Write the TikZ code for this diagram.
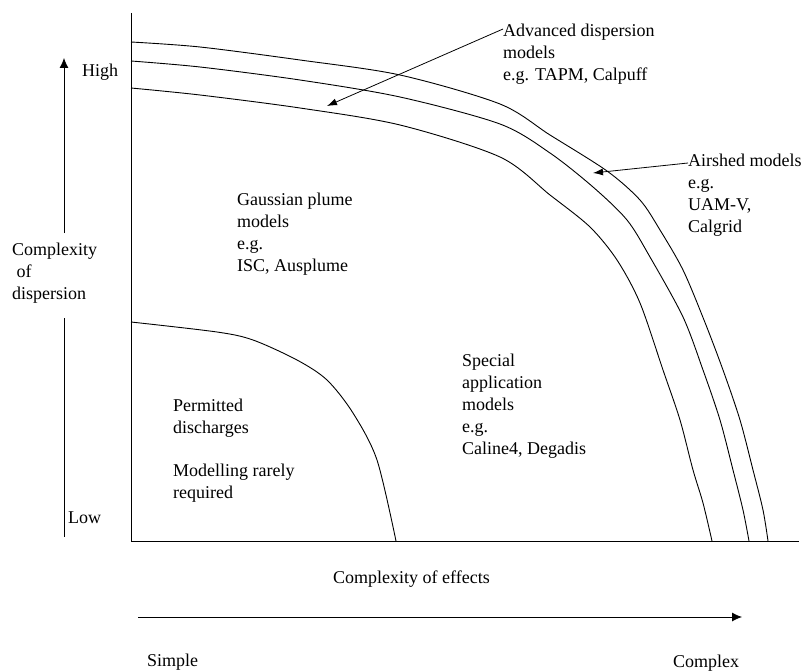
\documentclass[tikz,border=0pt]{standalone}
\usepackage{fontspec}
\setmainfont{Liberation Serif}
\usetikzlibrary{arrows.meta, positioning}

\begin{document}
\begin{tikzpicture}[x=1pt, y=-1pt,
    lbl/.style={inner sep=0pt, align=left, font=\fontsize{18}{22}\selectfont},
    crv/.style={line width=0.9pt, smooth},
    pointer/.style={line width=0.8pt, -{Latex[length=10pt,width=7pt]}}]
    \useasboundingbox (0,0) rectangle (808,671);
    % Axes
    \draw[line width=1pt] (131,13) -- (131,541) -- (799,541);
    
    % left scale
    \coordinate (dtop) at (64,58);
    \coordinate (dmid) at (64,233);
    \coordinate (dlow) at (64,318);
    \coordinate (dbot) at (64,537);
    \draw[pointer, -{Latex[length=10pt,width=9pt]}] (dmid) -- (dtop);
    \draw[line width=0.8pt] (dlow) -- (dbot);
    \node[lbl, anchor=west] (high) at (82,72) {High};
    \node[lbl, anchor=west] (low) at (68,518) {Low};
    \node[lbl, anchor=north west] (cdisp) at (12,243) {Complexity\\\ of\\dispersion};
    
    % bottom scale
    \coordinate (eleft) at (138,617);
    \coordinate (eright) at (742,617);
    \draw[pointer, -{Latex[length=10pt,width=9pt]}] (eleft) -- (eright);
    \node[lbl, anchor=west] (effects) at (333,579) {Complexity of effects};
    \node[lbl, anchor=west] (simple) at (147,662) {Simple};
    \node[lbl, anchor=west] (complex) at (673,663) {Complex};
    
    % boundaries
    \draw[crv] plot coordinates {(131,322) (217,332) (253,340) (297,360) (327,380) (353,413) (377,460) (396,541)};
    \draw[crv] plot coordinates {(131,88) (200,95) (300,108) (400,125) (500,157) (550,195) (590,227) (617,260) (640,303) (663,370) (680,420) (693,470) (703,503) (712,541)};
    \draw[crv] plot coordinates {(131,61) (200,67) (300,80) (400,97) (500,124) (550,153) (593,187) (627,220) (650,257) (683,317) (703,370) (720,420) (733,470) (743,510) (749,541)};
    \draw[crv] plot coordinates {(131,42) (200,47) (300,60) (400,75) (500,104) (550,135) (607,171) (640,200) (660,230) (683,270) (704,320) (723,370) (740,420) (753,470) (763,510) (768,541)};
    
    % regions
    \node[lbl, anchor=north west] (gauss) at (237,193) {Gaussian plume\\models\\e.g.\\ISC, Ausplume};
    \node[lbl, anchor=north west] (permit) at (173,399) {Permitted\\discharges};
    \node[lbl, anchor=north west] (rarely) at (173,464) {Modelling rarely\\required};
    \node[lbl, anchor=north west] (special) at (462,354) {Special\\application\\models\\e.g.\\Caline4, Degadis};
    
    % labelled curves
    \node[lbl, anchor=north west] (adv) at (503,24) {Advanced dispersion\\models\\e.g. TAPM, Calpuff};
    \coordinate (advtip) at (327,106);
    \draw[pointer] ([yshift=-5pt]adv.north west) -- (advtip);
    
    \node[lbl, anchor=north west] (air) at (688,154) {Airshed models\\e.g.\\UAM-V,\\Calgrid};
    \coordinate (airtip) at (593,173);
    \draw[pointer] ([yshift=-9pt]air.north west) -- (airtip);
\end{tikzpicture}
\end{document}
